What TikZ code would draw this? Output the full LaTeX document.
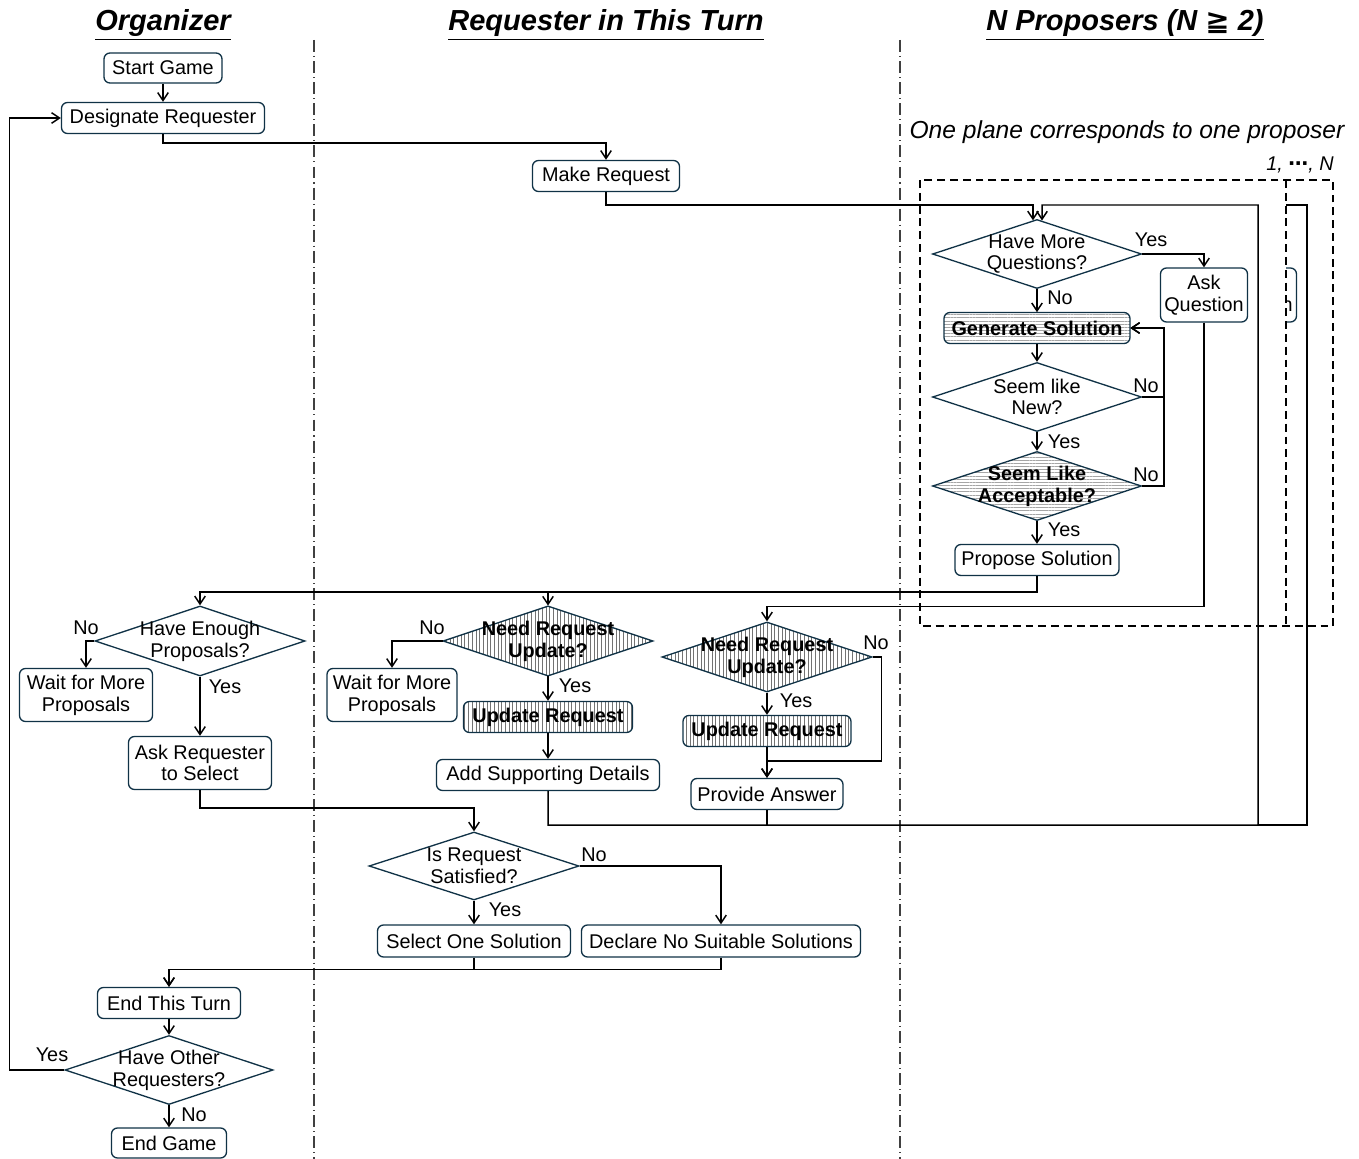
\documentclass[tikz,border=0pt]{standalone}
\usepackage{fontspec}
\setmainfont{Liberation Sans}
\newfontfamily\symfont{DejaVu Sans}
\usetikzlibrary{shapes.geometric,arrows.meta,patterns.meta,calc}

\definecolor{nodeline}{RGB}{16,50,70}
\newdimen\pxu \pxu=0.02cm
\newcommand\nodefont{\fontsize{11.3}{12.4}\selectfont}
\newcommand\headfont{\fontsize{16.5}{18}\selectfont\bfseries\itshape}

\tikzset{
  sz/.style 2 args={minimum width=#1\pxu, minimum height=#2\pxu},
  box/.style={rectangle, rounded corners=0.12cm, draw=nodeline, line width=0.75pt,
    fill=white, font=\nodefont, align=center, inner sep=0pt},
  dia/.style={diamond, draw=nodeline, line width=0.75pt, fill=white, inner sep=0pt,
    minimum width=210\pxu, minimum height=70\pxu},
  dtext/.style={label={[font=\nodefont, align=center]center:#1}},
  btext/.style={label={[font=\nodefont\bfseries, align=center]center:#1}},
  vhatch/.style={pattern={Lines[angle=90, distance=2.1pt, line width=0.45pt]}, pattern color=black!55},
  hhatch/.style={pattern={Lines[angle=0, distance=1.8pt, line width=0.35pt]}, pattern color=black!35},
  flow/.style={draw=black, line width=0.85pt, -{Straight Barb[length=4.5pt, width=6pt]}},
  line/.style={draw=black, line width=0.85pt},
  lab/.style={font=\nodefont, inner sep=0pt},
  head/.style={font=\headfont, inner sep=0pt},
  note/.style={font=\fontsize{14}{16}\selectfont\itshape, inner sep=0pt},
  lane/.style={draw=black!75, line width=0.6pt, dash pattern=on 6.8pt off 2.3pt on 0.6pt off 2.3pt},
  plane/.style={draw=black, line width=0.85pt, dash pattern=on 4.5pt off 2.8pt}
}

\begin{document}
\begin{tikzpicture}[x=0.02cm, y=-0.02cm]
    \useasboundingbox (0,0) rectangle (1359,1159);

    % swim lanes
    \draw[lane] (314,40) -- (314,1159);
    \draw[lane] (900,40) -- (900,1159);

    \node[head, anchor=base] (t1) at (163,31) {\underline{Organizer}};
    \node[head, anchor=base] (t2) at (606,31) {\underline{Requester in This Turn}};
    \node[head, anchor=base] (t3) at (1125,31) {\underline{N Proposers (N {\symfont\bfseries ≧} 2)}};

    % planes, the one behind first
    \begin{scope}
        \clip (1286,250) rectangle (1310,340);
        \node[box, sz={87}{54}] (aqb) at (1253,295) {Ask\\Question};
    \end{scope}
    \fill[white] (920,180) rectangle (1286,626);
    \draw[plane] (920,180) rectangle (1333,626);
    \draw[plane] (1286,180) -- (1286,626);
    \node[note, anchor=base] (pl) at (1127,138) {One plane corresponds to one proposer};
    \node[lab, anchor=base east, font=\nodefont\itshape] (nn) at (1334,171) {1, {\symfont\bfseries ⋯}, N};

    % organizer
    \node[box, sz={118}{30}] (sg) at (163,68) {Start Game};
    \node[box, sz={203}{31}] (dr) at (163,118) {Designate Requester};
    \node[dia, dtext={Have Enough\\Proposals?}] (he) at (200,641) {};
    \node[box, sz={133}{53}] (wm1) at (86,695) {Wait for More\\Proposals};
    \node[box, sz={143}{53}] (ar) at (200,763) {Ask Requester\\to Select};
    \node[box, sz={143}{31}] (et) at (169,1003) {End This Turn};
    \node[dia, sz={208}{69}, dtext={Have Other\\Requesters?}] (ho) at (169,1070) {};
    \node[box, sz={115}{30}] (eg) at (169,1143) {End Game};

    % requester
    \node[box, sz={147}{31}] (mr) at (606,176) {Make Request};
    \node[dia, vhatch, btext={Need Request\\Update?}] (nr1) at (548,641) {};
    \node[box, sz={130}{53}] (wm2) at (392,695) {Wait for More\\Proposals};
    \node[box, vhatch, sz={169}{31}, font=\nodefont\bfseries] (ur1) at (548,717) {Update Request};
    \node[box, sz={223}{31}] (sd) at (548,775) {Add Supporting Details};
    \node[dia, vhatch, btext={Need Request\\Update?}] (nr2) at (767,657) {};
    \node[box, vhatch, sz={168}{31}, font=\nodefont\bfseries] (ur2) at (767,731) {Update Request};
    \node[box, sz={152}{31}] (pa) at (767,794) {Provide Answer};
    \node[dia, sz={210}{68}, dtext={Is Request\\Satisfied?}] (ir) at (474,866) {};
    \node[box, sz={193}{32}] (so) at (474,941) {Select One Solution};
    \node[box, sz={279}{32}] (dn) at (721,941) {Declare No Suitable Solutions};

    % proposer
    \node[dia, sz={209}{69}, dtext={Have More\\Questions?}] (hm) at (1037,254) {};
    \node[box, sz={87}{54}] (aq) at (1204,295) {Ask\\Question};
    \node[box, hhatch, sz={186}{31}, font=\nodefont\bfseries] (gs) at (1037,328) {Generate Solution};
    \node[dia, sz={209}{69}, dtext={Seem like\\New?}] (sn) at (1037,397) {};
    \node[dia, hhatch, sz={209}{69}, btext={Seem Like\\Acceptable?}] (sa) at (1037,486) {};
    \node[box, sz={164}{31}] (ps) at (1037,560) {Propose Solution};

    % yes / no
    \node[lab] (y1) at (1151,240) {Yes};
    \node[lab] (n1) at (1060,298) {No};
    \node[lab] (n2) at (1146,386) {No};
    \node[lab] (y2) at (1064,442) {Yes};
    \node[lab] (n3) at (1146,475) {No};
    \node[lab] (y3) at (1064,530) {Yes};
    \node[lab] (n4) at (86,628) {No};
    \node[lab] (y4) at (225,687) {Yes};
    \node[lab] (n5) at (432,628) {No};
    \node[lab] (y5) at (575,686) {Yes};
    \node[lab] (n6) at (876,643) {No};
    \node[lab] (y6) at (796,701) {Yes};
    \node[lab] (n7) at (594,855) {No};
    \node[lab] (y7) at (505,910) {Yes};
    \node[lab] (y8) at (52,1055) {Yes};
    \node[lab] (n8) at (194,1115) {No};

    % connectors
    \draw[flow] (sg.south) -- (dr.north);
    \draw[flow] (dr.south) -- ++(0,9) -| (mr.north);
    \draw[flow] (mr.south) -- ++(0,13) -| ($(hm.north)+(-4,1.5)$);
    \draw[flow] (hm.east) -| (aq.north);
    \draw[flow] (hm.south) -- (gs.north);
    \draw[flow] (gs.south) -- (sn.north);
    \draw[flow] (sn.east) -- ++(22,0) |- (gs.east);
    \draw[flow] (sa.east) -- ++(22,0) |- (gs.east);
    \draw[flow] (sn.south) -- (sa.north);
    \draw[flow] (sa.south) -- (ps.north);
    \draw[flow] (ps.south) -- ++(0,16) -| (he.north);
    \draw[flow] (ps.south) -- ++(0,16) -| (nr1.north);
    \draw[flow] (aq.south) -- ++(0,284) -| (nr2.north);

    \draw[flow] (he.west) -| (wm1.north);
    \draw[flow] (he.south) -- (ar.north);
    \draw[flow] (nr1.west) -| (wm2.north);
    \draw[flow] (nr1.south) -- (ur1.north);
    \draw[flow] (ur1.south) -- (sd.north);
    \draw[flow] (nr2.south) -- (ur2.north);
    \draw[flow] (nr2.east) -- ++(9,0) -- ++(0,104) -| (pa.north);
    \draw[flow] (ur2.south) -- (pa.north);

    \draw[flow] (sd.south) -- ++(0,34) -- (1258,825) -- (1258,205) -| ($(hm.north)+(5,1.7)$);
    \draw[line] (pa.south) -- ++(0,16);
    \coordinate (bk) at (1286,205);
    \draw[line] (1258,825) -- (1307,825) |- (bk);

    \draw[flow] (ar.south) -- ++(0,18) -| (ir.north);
    \draw[flow] (ir.east) -| (dn.north);
    \draw[flow] (ir.south) -- (so.north);
    \draw[flow] (so.south) -- ++(0,12) -| (et.north);
    \draw[flow] (dn.south) -- ++(0,12) -| (et.north);
    \draw[flow] (et.south) -- (ho.north);
    \draw[flow] (ho.west) -- ++(-55,0) |- (dr.west);
    \draw[flow] (ho.south) -- (eg.north);
\end{tikzpicture}
\end{document}
